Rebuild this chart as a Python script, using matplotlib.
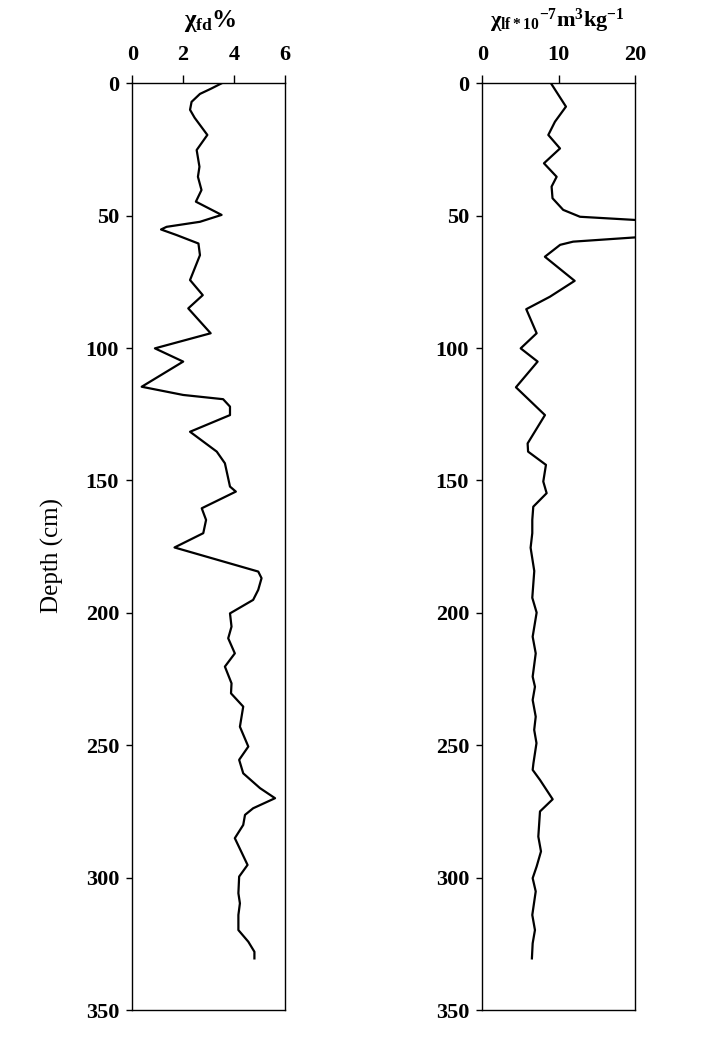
import matplotlib
matplotlib.use("Agg")
import matplotlib.pyplot as plt

plt.rcParams['font.family'] = ['Liberation Serif', 'DejaVu Serif']
plt.rcParams['mathtext.fontset'] = 'custom'
plt.rcParams['mathtext.rm'] = 'Liberation Serif:bold'
plt.rcParams['mathtext.it'] = 'Liberation Serif:bold'
plt.rcParams['mathtext.bf'] = 'Liberation Serif:bold'

# chi_fd % profile
fd_depth = [0, 2, 4, 7, 10, 13, 19.5, 25.2, 31.5, 35.3, 40.3, 44.7, 49.7, 52.3,
            54.2, 55.2, 57.3, 60.5, 64.9, 74.3, 80, 85, 94.4, 100.1, 105.1,
            114.6, 117.7, 119.3, 122.1, 125.3, 131.6, 139.1, 143.5, 152.3,
            154.2, 160.5, 164.9, 169.9, 175.3, 184.4, 186.9, 191.3, 195.1,
            200.2, 205.2, 209.6, 215.3, 220.3, 226.6, 230.4, 235.4, 243, 250.5,
            255.5, 260.6, 266.2, 270, 273.8, 276.3, 280.1, 285.1, 295.2, 299.6,
            305.9, 309.7, 314.1, 319.8, 324.2, 328, 330.5]
fd_value = [3.51, 3.1, 2.66, 2.33, 2.27, 2.45, 2.95, 2.53, 2.64, 2.58, 2.72, 2.5,
            3.51, 2.66, 1.35, 1.13, 1.74, 2.6, 2.66, 2.27, 2.77, 2.2, 3.08, 0.89,
            2.0, 0.37, 2.0, 3.57, 3.84, 3.84, 2.27, 3.32, 3.64, 3.84, 4.07,
            2.73, 2.9, 2.79, 1.66, 4.95, 5.08, 4.95, 4.75, 3.84, 3.9, 3.77,
            4.03, 3.64, 3.9, 3.88, 4.36, 4.23, 4.56, 4.2, 4.36, 5.02, 5.61,
            4.75, 4.43, 4.36, 4.03, 4.53, 4.2, 4.17, 4.23, 4.17, 4.17, 4.56,
            4.8, 4.8]

# chi_lf profile
lf_depth = [0, 8.8, 14.5, 19.5, 24.6, 30.2, 35.3, 39, 43.4, 47.8, 50.4, 51.6,
            55, 58.2, 59.8, 61, 65.5, 74.6, 80.6, 85.3, 94.4, 100.1, 105.1,
            114.8, 125.3, 136, 139.1, 144.1, 150.4, 154.8, 159.9, 164.9, 169.9,
            175.4, 184.2, 194.3, 199.9, 209, 215.3, 224.1, 227.9, 232.9, 239.2,
            244.2, 249.2, 256.8, 259.3, 263.1, 270.4, 275, 284.5, 290.1, 295.8,
            300.2, 305.2, 314.1, 319.8, 324.8, 330.5]
lf_value = [9.0, 10.96, 9.52, 8.65, 10.18, 8.08, 9.74, 9.08, 9.2, 10.6, 12.8, 20,
            40, 20, 11.9, 10.2, 8.2, 12.1, 8.86, 5.76, 7.12, 5.03, 7.25, 4.41,
            8.21, 5.94, 6.0, 8.34, 7.99, 8.43, 6.68, 6.55, 6.55, 6.33, 6.81,
            6.55, 7.12, 6.6, 7.0, 6.6, 6.9, 6.6, 7.0, 6.8, 7.1, 6.7, 6.6, 7.56,
            9.22, 7.56, 7.34, 7.69, 7.12, 6.6, 7.0, 6.55, 6.9, 6.6, 6.5]

depth_ticks = [0, 50, 100, 150, 200, 250, 300, 350]
fd_ticks = [0, 2, 4, 6]
lf_ticks = [0, 10, 20]

fig = plt.figure(figsize=(7.26, 10.52), dpi=100)
ax1 = fig.add_axes([0.1822, 0.0399, 0.2103, 0.8809])
ax2 = fig.add_axes([0.6643, 0.0399, 0.2103, 0.8809])

for ax, d, v, xt, xl in [(ax1, fd_depth, fd_value, fd_ticks, (0, 6)),
                         (ax2, lf_depth, lf_value, lf_ticks, (0, 20))]:
    ax.plot(v, d, color='black', lw=1.6, solid_joinstyle='round')
    ax.set_xlim(*xl)
    ax.set_ylim(350, 0)
    ax.set_xticks(xt)
    ax.set_yticks(depth_ticks)
    ax.xaxis.tick_top()
    ax.tick_params(axis='x', direction='out', length=6, width=1, pad=7.5,
                   labelsize=16)
    ax.tick_params(axis='y', direction='out', length=4.5, width=1, pad=5,
                   labelsize=16)
    for lab in ax.get_xticklabels() + ax.get_yticklabels():
        lab.set_fontweight('bold')
    for s in ax.spines.values():
        s.set_linewidth(1.0)
        s.set_color('black')

fig.text(0.289, 0.980, r'$\chi_{\rm fd}$%', ha='center', va='center',
         fontsize=18, fontweight='bold')
fig.text(0.768, 0.980, r'$\chi_{\rm lf*10}{}^{-7}{\rm m}^{3}{\rm kg}^{-1}$',
         ha='center', va='center', fontsize=16, fontweight='bold')
fig.text(0.072, 0.4724, 'Depth (cm)', rotation=90, ha='center', va='center',
         fontsize=18)

fig.savefig('out.png', dpi=100)
